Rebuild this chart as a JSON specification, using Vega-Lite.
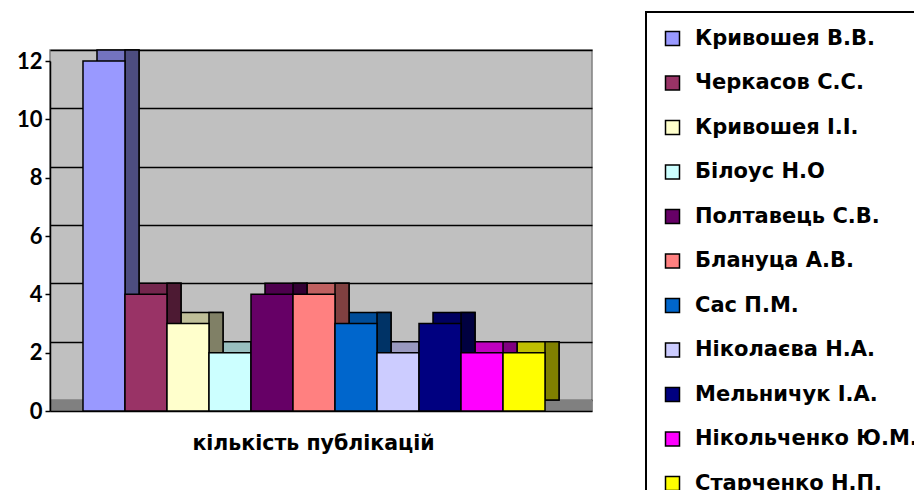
{
  "$schema": "https://vega.github.io/schema/vega-lite/v6.json",
  "autosize": "none",
  "width": 542,
  "height": 361,
  "padding": {"left": 50, "top": 50, "right": 322, "bottom": 79},
  "background": "white",
  "config": {
    "font": "Lato",
    "view": {"fill": "#C0C0C0", "stroke": "#808080", "strokeWidth": 1.5}
  },
  "data": {
    "values": [
      {"name": "Кривошея В.В.", "count": 12},
      {"name": "Черкасов С.С.", "count": 4},
      {"name": "Кривошея І.І.", "count": 3},
      {"name": "Білоус Н.О", "count": 2},
      {"name": "Полтавець С.В.", "count": 4},
      {"name": "Блануца А.В.", "count": 4},
      {"name": "Сас П.М.", "count": 3},
      {"name": "Ніколаєва Н.А.", "count": 2},
      {"name": "Мельничук І.А.", "count": 3},
      {"name": "Нікольченко Ю.М.", "count": 2},
      {"name": "Старченко Н.П.", "count": 2}
    ]
  },
  "layer": [
    {
      "mark": {"type": "bar", "opacity": 0},
      "encoding": {
        "x": {"field": "name", "type": "nominal", "sort": null,
          "scale": {"paddingInner": 0, "paddingOuter": 0.952, "align": 0.4125},
          "axis": {"orient": "bottom", "labels": false, "ticks": false, "title": null, "grid": false, "domainColor": "#808080", "domainWidth": 11, "offset": -6}},
        "y": {"field": "count", "type": "quantitative",
          "scale": {"domain": [0, 12], "range": [350, 0], "nice": false, "zero": true},
          "axis": {"orient": "right", "labels": false, "ticks": false, "domain": false, "title": null, "grid": true, "gridColor": "black", "gridWidth": 1.5, "values": [0, 2, 4, 6, 8, 10, 12]}}
      }
    },
    {
      "mark": {"type": "bar", "xOffset": 14, "yOffset": -11, "y2Offset": -11, "stroke": "black", "strokeWidth": 1.5},
      "encoding": {
        "x": {"field": "name", "type": "nominal", "sort": null, "axis": null,
          "scale": {"paddingInner": 0, "paddingOuter": 0.952, "align": 0.4125}},
        "y": {"field": "count", "type": "quantitative",
          "scale": {"domain": [0, 12], "range": [361, 11], "nice": false}, "axis": null},
        "color": {"field": "name", "type": "nominal", "legend": null,
          "scale": {"domain": ["Кривошея В.В.", "Черкасов С.С.", "Кривошея І.І.", "Білоус Н.О", "Полтавець С.В.", "Блануца А.В.", "Сас П.М.", "Ніколаєва Н.А.", "Мельничук І.А.", "Нікольченко Ю.М.", "Старченко Н.П."],
            "range": ["#7373BF", "#73264D", "#BFBF99", "#99BFBF", "#4D004D", "#BF6060", "#004D99", "#9999BF", "#000060", "#BF00BF", "#BFBF00"]}}
      }
    },
    {
      "mark": {"type": "bar", "width": 14, "xOffset": 28, "yOffset": -11, "y2Offset": -11, "stroke": "black", "strokeWidth": 1.5},
      "encoding": {
        "x": {"field": "name", "type": "nominal", "sort": null, "axis": null,
          "scale": {"paddingInner": 0, "paddingOuter": 0.952, "align": 0.4125}},
        "y": {"field": "count", "type": "quantitative",
          "scale": {"domain": [0, 12], "range": [361, 11], "nice": false}, "axis": null},
        "color": {"field": "name", "type": "nominal", "legend": null,
          "scale": {"domain": ["Кривошея В.В.", "Черкасов С.С.", "Кривошея І.І.", "Білоус Н.О", "Полтавець С.В.", "Блануца А.В.", "Сас П.М.", "Ніколаєва Н.А.", "Мельничук І.А.", "Нікольченко Ю.М.", "Старченко Н.П."],
            "range": ["#4D4D80", "#4D1A33", "#808066", "#668080", "#330033", "#804040", "#003366", "#666680", "#000040", "#800080", "#808000"]}}
      }
    },
    {
      "mark": {"type": "bar", "stroke": "black", "strokeWidth": 1.5},
      "encoding": {
        "x": {"field": "name", "type": "nominal", "sort": null,
          "scale": {"paddingInner": 0, "paddingOuter": 0.952, "align": 0.4125},
          "axis": {"orient": "bottom", "labels": false, "ticks": false, "grid": false, "domainColor": "black", "domainWidth": 1.5,
            "title": "кількість публікацій", "titleFont": "DejaVu Sans", "titleFontSize": 20.5, "titleFontWeight": "bold", "titleColor": "black", "titlePadding": 22, "titleX": 263}},
        "y": {"field": "count", "type": "quantitative",
          "scale": {"domain": [0, 12], "range": [361, 11], "nice": false},
          "axis": {"orient": "left", "values": [0, 2, 4, 6, 8, 10, 12], "grid": false, "title": null,
            "labelFont": "Lato", "labelFontSize": 22, "labelFontWeight": "bold", "labelColor": "black", "labelPadding": 3,
            "tickColor": "black", "tickSize": 5, "tickWidth": 1.5, "domainColor": "black", "domainWidth": 1.5}},
        "color": {"field": "name", "type": "nominal",
          "scale": {"domain": ["Кривошея В.В.", "Черкасов С.С.", "Кривошея І.І.", "Білоус Н.О", "Полтавець С.В.", "Блануца А.В.", "Сас П.М.", "Ніколаєва Н.А.", "Мельничук І.А.", "Нікольченко Ю.М.", "Старченко Н.П."],
            "range": ["#9999FF", "#993366", "#FFFFCC", "#CCFFFF", "#660066", "#FF8080", "#0066CC", "#CCCCFF", "#000080", "#FF00FF", "#FFFF00"]},
          "legend": {"orient": "none", "legendX": 596, "legendY": -38, "title": null,
            "symbolType": "square", "symbolSize": 196, "symbolStrokeColor": "black", "symbolStrokeWidth": 1.5, "symbolOpacity": 1,
            "labelFont": "DejaVu Sans", "labelFontWeight": "bold", "labelFontSize": 21, "labelColor": "black", "labelOffset": 12, "labelLimit": 400,
            "rowPadding": 22.5, "padding": 16, "strokeColor": "black", "fillColor": "white",
            "encode": {"legend": {"update": {"strokeWidth": {"value": 2}}}}}}
      }
    }
  ],
  "resolve": {"scale": {"color": "independent", "y": "independent", "x": "independent"}}
}
